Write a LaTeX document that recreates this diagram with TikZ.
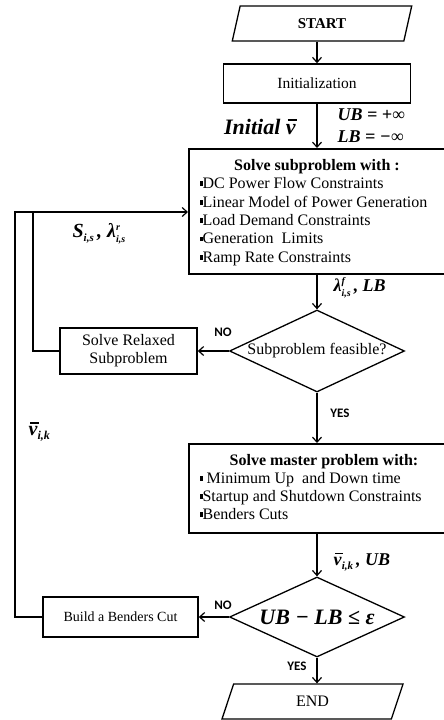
\documentclass[tikz,border=0pt]{standalone}
\usepackage{fontspec}
\setmainfont{Liberation Serif}
\newfontfamily\labfont{Carlito}
\usetikzlibrary{arrows.meta,shapes.geometric}
\newcommand{\blt}{\raisebox{2.5pt}{\rule{3pt}{4.5pt}}}
\newcommand{\fs}[1]{\fontsize{#1}{#1}\selectfont}
\newcommand{\bi}[1]{\textbf{\textit{#1}}}
\newcommand{\ssup}[2]{\raisebox{7pt}{\fs{10}\bfseries\itshape\begin{tabular}[t]{@{}l@{}}#1\\[2pt]#2\end{tabular}}}
\newcommand{\ssub}[2][11]{\raisebox{-4pt}{\fs{#1}\bi{#2}}}
\newcommand{\vbar}{\rlap{\hspace{0.08em}\raisebox{0.62em}{\rule{0.42em}{0.07em}}}v}
\begin{document}
\begin{tikzpicture}[x=1pt,y=-1pt,line width=1.2pt,
  box/.style={draw,line width=1.6pt,rectangle,inner sep=0pt,font=\fs{16}},
  io/.style={draw,line width=1.3pt,trapezium,trapezium left angle=77,trapezium right angle=103,
    trapezium stretches=true,inner sep=0pt,minimum height=35pt},
  dia/.style={draw,line width=1.3pt,diamond,inner sep=0pt,minimum width=175pt,minimum height=82pt},
  arr/.style={-{Straight Barb[length=5pt,width=9pt]},line width=1.2pt},
  yn/.style={font=\labfont\bfseries\fs{13}},
  txt/.style={inner sep=0pt,font=\fs{16}},
  mth/.style={inner sep=0pt}]
\useasboundingbox (0,0) rectangle (444,720);
% shapes
\node[io,minimum width=180pt,font=\bfseries\fs{15}] (start) at (322,23.5) {START};
\node[box,minimum width=187pt,minimum height=39pt,font=\fs{15.5}] (init) at (317,83.5) {Initialization};
\node[box,anchor=north west,minimum width=270pt,minimum height=125pt] (sub) at (188,148) {};
\node[box,anchor=north west,minimum width=270pt,minimum height=89pt] (master) at (188,443) {};
\node[box,minimum width=137pt,minimum height=46pt,align=center,font=\fontsize{16}{18}\selectfont] (relax) at (128.5,351) {Solve Relaxed\\Subproblem};
\node[box,minimum width=155pt,minimum height=40pt,font=\fs{14}] (build) at (120.5,617) {Build a Benders Cut};
\node[dia] (d1) at (317,351) {};
\node[dia,minimum height=80pt] (d2) at (317,617) {};
\node[io,minimum width=181pt,font=\fs{16}] (end) at (312.5,701.5) {END};
\node[txt] (d1t) at (d1.center) {Subproblem feasible?};
\node[mth,font=\fs{22}] (d2t) at (d2.center) {\bi{UB − LB ≤ ε}};
% box texts
\node[txt,anchor=base,font=\bfseries\fs{16}] (st) at (317,170) {Solve subproblem with :};
\node[txt,anchor=base west] (s1) at (199,188) {\blt DC Power Flow Constraints};
\node[txt,anchor=base west] (s2) at (199,207) {\blt Linear Model of Power Generation};
\node[txt,anchor=base west] (s3) at (199,225) {\blt Load Demand Constraints};
\node[txt,anchor=base west] (s4) at (199,243.5) {\blt Generation\ \ Limits};
\node[txt,anchor=base west] (s5) at (199,262) {\blt Ramp Rate Constraints};
\node[txt,anchor=base,font=\bfseries\fs{16}] (mt) at (324,465) {Solve master problem with:};
\node[txt,anchor=base west] (m1) at (199,483) {\blt\ Minimum Up\ \ and Down time};
\node[txt,anchor=base west] (m2) at (199,501) {\blt Startup and Shutdown Constraints};
\node[txt,anchor=base west] (m3) at (199,519) {\blt Benders Cuts};
% connectors
\coordinate (jn) at (33,212);
\coordinate (lp) at (15,212);
\draw[arr] (start.south -| init.north) -- (init.north);
\draw[arr] (init.south) -- (init.south |- sub.north);
\draw[arr] (init.south |- sub.south) -- (d1.north);
\draw[arr] (d1.west) -- (relax.east);
\draw (relax.west) -| (jn);
\draw[arr] (build.west) -| (lp) -- (lp -| sub.west);
\draw[arr] (d1.south) -- (d1.south |- master.north);
\draw[arr] (d1.south |- master.south) -- (d2.north);
\draw[arr] (d2.west) -- (build.east);
\draw[arr] (d2.south) -- (d2.south |- end.north);
% labels
\node[mth,font=\fs{22}] (iv) at (260,127) {\bi{Initial \vbar}};
\node[mth,anchor=west,font=\fs{18}] (ub) at (337,115) {\bi{UB = +∞}};
\node[mth,anchor=west,font=\fs{18}] (lb) at (337,137) {\bi{LB = −∞}};
\node[mth,anchor=west,font=\fs{20}] (sl) at (72,234) {\bi{S}\ssub{i,s}\,\bi{, λ}\ssup{r}{i,s}};
\node[mth,anchor=west,font=\fs{18}] (lf) at (333,288) {\bi{λ}\ssup{f}{i,s}\,\bi{, LB}};
\node[mth,anchor=west,font=\fs{20}] (vik) at (28,432) {\bi{\vbar}\ssub[12]{i,k}};
\node[mth,anchor=west,font=\fs{18}] (vub) at (333,562) {\bi{\vbar}\ssub{i,k}\,\bi{, UB}};
\node[yn] (no1) at (223,332) {NO};
\node[yn] (yes1) at (340,413) {YES};
\node[yn] (no2) at (223,605) {NO};
\node[yn] (yes2) at (297,666) {YES};
\end{tikzpicture}
\end{document}
